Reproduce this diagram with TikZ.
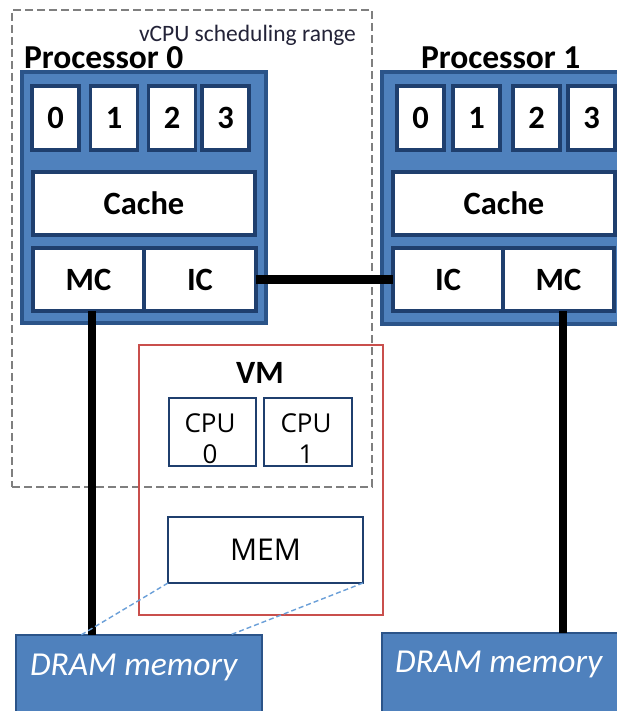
\documentclass[tikz,border=0pt]{standalone}
\usepackage{fontspec}
\setmainfont{Carlito}
\newfontfamily\uifont{Open Sans}
\usetikzlibrary{calc}
\definecolor{procblue}{HTML}{4F81BD}
\definecolor{procedge}{HTML}{2B5489}
\definecolor{unitedge}{HTML}{1F3F6E}
\definecolor{vmred}{HTML}{C94F4C}
\definecolor{rangegray}{HTML}{7F7F7F}
\definecolor{maplink}{HTML}{6A9FD8}
\definecolor{rangetext}{HTML}{232338}
\tikzset{
  every node/.style={inner sep=0pt, outer sep=0pt},
  proc/.style={draw=procedge, fill=procblue, line width=3.2pt, rectangle},
  unit/.style={draw=unitedge, fill=white, line width=3.4pt, rectangle,
               font=\fontsize{32.5}{32.5}\selectfont\bfseries},
  core/.style={unit, minimum width=47pt, minimum height=64pt},
  vbox/.style={draw=unitedge, fill=white, line width=2.8pt, rectangle},
  vmbox/.style={draw=vmred, line width=2.8pt, rectangle},
  rangebox/.style={draw=rangegray, line width=1.8pt, dash pattern=on 8pt off 4pt, rectangle},
  dram/.style={draw=procedge, fill=procblue, line width=1.4pt, rectangle},
  dramtext/.style={text=white, font=\fontsize{33.5}{33.5}\selectfont\itshape, anchor=west},
  title/.style={font=\fontsize{33.5}{33.5}\selectfont\bfseries, anchor=base west},
  link/.style={line width=8.5pt, draw=black},
  mapline/.style={draw=maplink, line width=1.4pt, dash pattern=on 5pt off 3pt},
}
\begin{document}
\begin{tikzpicture}[x=1pt, y=-1pt]
\useasboundingbox (0,0) rectangle (617,711);
\clip (0,0) rectangle (617,711);

% scheduling range of the virtual CPUs
\node[rangebox, minimum width=360pt, minimum height=477pt] (range) at (192,248.5) {};
\node[anchor=west, text=rangetext, font=\fontsize{23.5}{23.5}\selectfont] (rangelbl) at (139,35) {vCPU scheduling range};

% Processor 0
\node[title] (p0lbl) at (24,69) {Processor 0};
\node[proc, minimum width=244pt, minimum height=251pt] (p0) at (144,197.5) {};
\node[core] (p0c0) at (55.5,118) {0};
\node[core] (p0c1) at (114,118) {1};
\node[core] (p0c2) at (172,118) {2};
\node[core] (p0c3) at (225.5,118) {3};
\node[unit, minimum width=222pt, minimum height=63pt] (cache0) at (144,203.5) {Cache};
\node[unit, minimum width=111pt, minimum height=63pt] (mc0) at (88.5,279.5) {MC};
\node[unit, minimum width=112pt, minimum height=63pt] (ic0) at (200,279.5) {IC};

% Processor 1
\node[title] (p1lbl) at (421,69) {Processor 1};
\node[proc, minimum width=244pt, minimum height=252pt] (p1) at (504,198) {};
\node[core] (p1c0) at (420.5,118) {0};
\node[core] (p1c1) at (476.5,118) {1};
\node[core] (p1c2) at (536.5,118) {2};
\node[core] (p1c3) at (591.5,118) {3};
\node[unit, minimum width=222pt, minimum height=63pt] (cache1) at (504,203.5) {Cache};
\node[unit, minimum width=110pt, minimum height=63pt] (ic1) at (448,279.5) {IC};
\node[unit, minimum width=111pt, minimum height=63pt] (mc1) at (558.5,279.5) {MC};

% DRAM banks
\node[dram, minimum width=246pt, minimum height=90pt] (dram0) at (139,680) {};
\node[dramtext] (dram0lbl) at (30,667) {DRAM memory};
\node[dram, minimum width=244pt, minimum height=92pt] (dram1) at (504,679) {};
\node[dramtext] (dram1lbl) at (395,664) {DRAM memory};

% interconnect and memory buses
\draw[link] (ic0.east) -- (ic1.west);
\draw[link] ([xshift=3.5pt]mc0.south) -- ([xshift=3.5pt]mc0.south |- dram0.north);
\draw[link] ([xshift=4.5pt]mc1.south) -- ([xshift=4.5pt]mc1.south |- dram1.north);

% virtual machine
\node[vmbox, minimum width=244pt, minimum height=270pt] (vm) at (261,480) {};
\node[font=\fontsize{32.5}{32.5}\selectfont\bfseries] (vmlbl) at (260,373) {VM};
\node[vbox, minimum width=87pt, minimum height=68pt] (cpu0) at (212.5,432) {};
\node[vbox, minimum width=88pt, minimum height=68pt] (cpu1) at (308,432) {};
\node[align=center, font=\uifont\fontsize{26}{31}\selectfont] (cpu0lbl) at (210,439) {CPU\\0};
\node[align=center, font=\uifont\fontsize{26}{31}\selectfont] (cpu1lbl) at (306,439) {CPU\\1};
\node[vbox, minimum width=195pt, minimum height=66pt, font=\uifont\fontsize{30}{30}\selectfont] (mem) at (265.5,550) {MEM};

% guest memory mapped onto the DRAM of processor 0
\coordinate (map0) at (81,635);
\coordinate (map1) at (230,635);
\draw[mapline] (mem.south west) -- (map0);
\draw[mapline] (mem.south east) -- (map1);
\end{tikzpicture}
\end{document}
